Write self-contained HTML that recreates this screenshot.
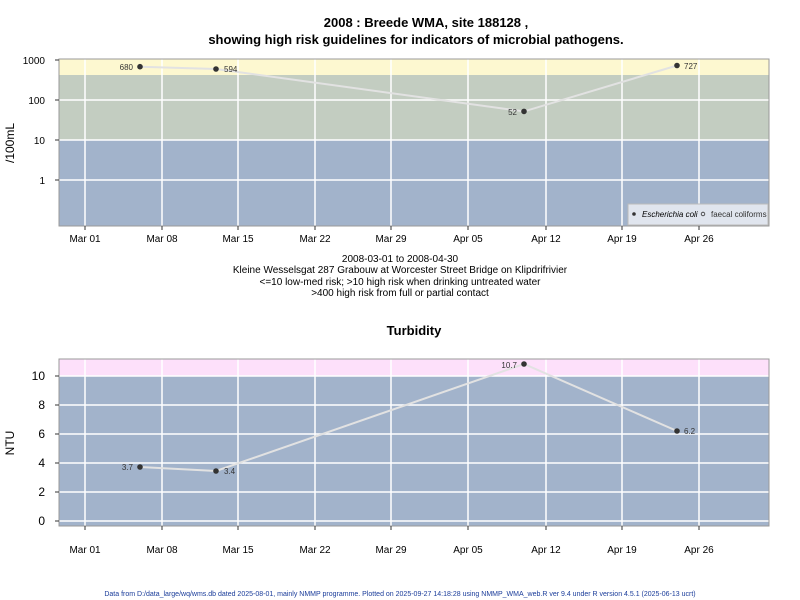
<!DOCTYPE html>
<html><head><style>body{margin:0;background:#fff}svg{display:block;font-family:"Liberation Sans",Arial,sans-serif}</style></head><body>
<svg width="800" height="600" xmlns="http://www.w3.org/2000/svg">
<text x="426" y="27" font-size="13" font-weight="bold" text-anchor="middle">2008 : Breede WMA, site 188128 ,</text>
<text x="416" y="44" font-size="13" font-weight="bold" text-anchor="middle">showing high risk guidelines for indicators of microbial pathogens.</text>
<!-- top plot -->
<rect x="59" y="59" width="710" height="16" fill="#fdf8d0"/>
<rect x="59" y="75" width="710" height="65" fill="#c3cdc1"/>
<rect x="59" y="140" width="710" height="86" fill="#a2b3cb"/>
<g stroke="#fff" stroke-width="1.5">
<line x1="59" x2="769" y1="100" y2="100"/><line x1="59" x2="769" y1="140" y2="140"/><line x1="59" x2="769" y1="180" y2="180"/>
<line x1="85" x2="85" y1="59" y2="226"/><line x1="162" x2="162" y1="59" y2="226"/><line x1="238" x2="238" y1="59" y2="226"/><line x1="315" x2="315" y1="59" y2="226"/><line x1="391" x2="391" y1="59" y2="226"/><line x1="468" x2="468" y1="59" y2="226"/><line x1="546" x2="546" y1="59" y2="226"/><line x1="622" x2="622" y1="59" y2="226"/><line x1="699" x2="699" y1="59" y2="226"/>
</g>
<rect x="59" y="59" width="710" height="167" fill="none" stroke="#999"/>
<polyline points="140,66.7 216,69 524,111.4 677,65.5" fill="none" stroke="#e2e2e2" stroke-width="2"/>
<g fill="#333"><circle cx="140" cy="66.7" r="2.8"/><circle cx="216" cy="69" r="2.8"/><circle cx="524" cy="111.4" r="2.8"/><circle cx="677" cy="65.5" r="2.8"/></g>
<g font-size="8" fill="#333"><text x="133" y="70" text-anchor="end">680</text><text x="224" y="72">594</text><text x="517" y="115" text-anchor="end">52</text><text x="684" y="69">727</text></g>
<g stroke="#333"><line x1="55" x2="59" y1="60" y2="60"/><line x1="55" x2="59" y1="100" y2="100"/><line x1="55" x2="59" y1="140" y2="140"/><line x1="55" x2="59" y1="180" y2="180"/></g>
<g font-size="10" text-anchor="end" fill="#000"><text x="45" y="64">1000</text><text x="45" y="104">100</text><text x="45" y="144">10</text><text x="45" y="184">1</text></g>
<text transform="translate(14,143) rotate(-90)" font-size="12" text-anchor="middle">/100mL</text>
<rect x="628" y="204" width="140" height="21" fill="#e0e5ee" stroke="#bbb"/>
<circle cx="634" cy="214" r="1.8" fill="#333"/><text x="642" y="217" font-size="8" font-style="italic">Escherichia coli</text>
<circle cx="703" cy="214" r="1.8" fill="none" stroke="#333" stroke-width=".8"/><text x="711" y="217" font-size="8" fill="#333">faecal coliforms</text>
<g stroke="#333"><line x1="59" x2="769" y1="226" y2="226" stroke="none"/>
<line x1="85" x2="85" y1="226" y2="230"/><line x1="162" x2="162" y1="226" y2="230"/><line x1="238" x2="238" y1="226" y2="230"/><line x1="315" x2="315" y1="226" y2="230"/><line x1="391" x2="391" y1="226" y2="230"/><line x1="468" x2="468" y1="226" y2="230"/><line x1="546" x2="546" y1="226" y2="230"/><line x1="622" x2="622" y1="226" y2="230"/><line x1="699" x2="699" y1="226" y2="230"/></g>
<g font-size="10" text-anchor="middle"><text x="85" y="242">Mar 01</text><text x="162" y="242">Mar 08</text><text x="238" y="242">Mar 15</text><text x="315" y="242">Mar 22</text><text x="391" y="242">Mar 29</text><text x="468" y="242">Apr 05</text><text x="546" y="242">Apr 12</text><text x="622" y="242">Apr 19</text><text x="699" y="242">Apr 26</text></g>
<g font-size="10" text-anchor="middle"><text x="400" y="262">2008-03-01 to 2008-04-30</text><text x="400" y="273">Kleine Wesselsgat 287 Grabouw at Worcester Street Bridge on Klipdrifrivier</text><text x="400" y="285">&lt;=10 low-med risk; &gt;10 high risk when drinking untreated water</text><text x="400" y="296">&gt;400 high risk from full or partial contact</text></g>
<text x="414" y="335" font-size="13" font-weight="bold" text-anchor="middle">Turbidity</text>
<!-- bottom plot -->
<rect x="59" y="359" width="710" height="17" fill="#fde0fa"/>
<rect x="59" y="376" width="710" height="150" fill="#a2b3cb"/>
<g stroke="#fff" stroke-width="1.5">
<line x1="59" x2="769" y1="376" y2="376"/><line x1="59" x2="769" y1="405" y2="405"/><line x1="59" x2="769" y1="434" y2="434"/><line x1="59" x2="769" y1="463" y2="463"/><line x1="59" x2="769" y1="492" y2="492"/><line x1="59" x2="769" y1="521" y2="521"/>
<line x1="85" x2="85" y1="359" y2="526"/><line x1="162" x2="162" y1="359" y2="526"/><line x1="238" x2="238" y1="359" y2="526"/><line x1="315" x2="315" y1="359" y2="526"/><line x1="391" x2="391" y1="359" y2="526"/><line x1="468" x2="468" y1="359" y2="526"/><line x1="546" x2="546" y1="359" y2="526"/><line x1="622" x2="622" y1="359" y2="526"/><line x1="699" x2="699" y1="359" y2="526"/>
</g>
<rect x="59" y="359" width="710" height="167" fill="none" stroke="#999"/>
<polyline points="140,467 216,471 524,364 677,431" fill="none" stroke="#e2e2e2" stroke-width="2"/>
<g fill="#333"><circle cx="140" cy="467" r="2.8"/><circle cx="216" cy="471" r="2.8"/><circle cx="524" cy="364" r="2.8"/><circle cx="677" cy="431" r="2.8"/></g>
<g font-size="8" fill="#333"><text x="133" y="470" text-anchor="end">3.7</text><text x="224" y="474">3.4</text><text x="517" y="368" text-anchor="end">10.7</text><text x="684" y="434">6.2</text></g>
<g stroke="#333"><line x1="55" x2="59" y1="376" y2="376"/><line x1="55" x2="59" y1="405" y2="405"/><line x1="55" x2="59" y1="434" y2="434"/><line x1="55" x2="59" y1="463" y2="463"/><line x1="55" x2="59" y1="492" y2="492"/><line x1="55" x2="59" y1="521" y2="521"/></g>
<g font-size="12" text-anchor="end"><text x="45" y="380">10</text><text x="45" y="409">8</text><text x="45" y="438">6</text><text x="45" y="467">4</text><text x="45" y="496">2</text><text x="45" y="525">0</text></g>
<text transform="translate(14,443) rotate(-90)" font-size="12" text-anchor="middle">NTU</text>
<g stroke="#333"><line x1="85" x2="85" y1="526" y2="530"/><line x1="162" x2="162" y1="526" y2="530"/><line x1="238" x2="238" y1="526" y2="530"/><line x1="315" x2="315" y1="526" y2="530"/><line x1="391" x2="391" y1="526" y2="530"/><line x1="468" x2="468" y1="526" y2="530"/><line x1="546" x2="546" y1="526" y2="530"/><line x1="622" x2="622" y1="526" y2="530"/><line x1="699" x2="699" y1="526" y2="530"/></g>
<g font-size="10" text-anchor="middle"><text x="85" y="553">Mar 01</text><text x="162" y="553">Mar 08</text><text x="238" y="553">Mar 15</text><text x="315" y="553">Mar 22</text><text x="391" y="553">Mar 29</text><text x="468" y="553">Apr 05</text><text x="546" y="553">Apr 12</text><text x="622" y="553">Apr 19</text><text x="699" y="553">Apr 26</text></g>
<text x="400" y="596" font-size="7" fill="#1a3c9a" text-anchor="middle">Data from D:/data_large/wq/wms.db dated 2025-08-01, mainly NMMP programme. Plotted on 2025-09-27 14:18:28 using NMMP_WMA_web.R ver 9.4 under R version 4.5.1 (2025-06-13 ucrt)</text>
</svg>
</body></html>
